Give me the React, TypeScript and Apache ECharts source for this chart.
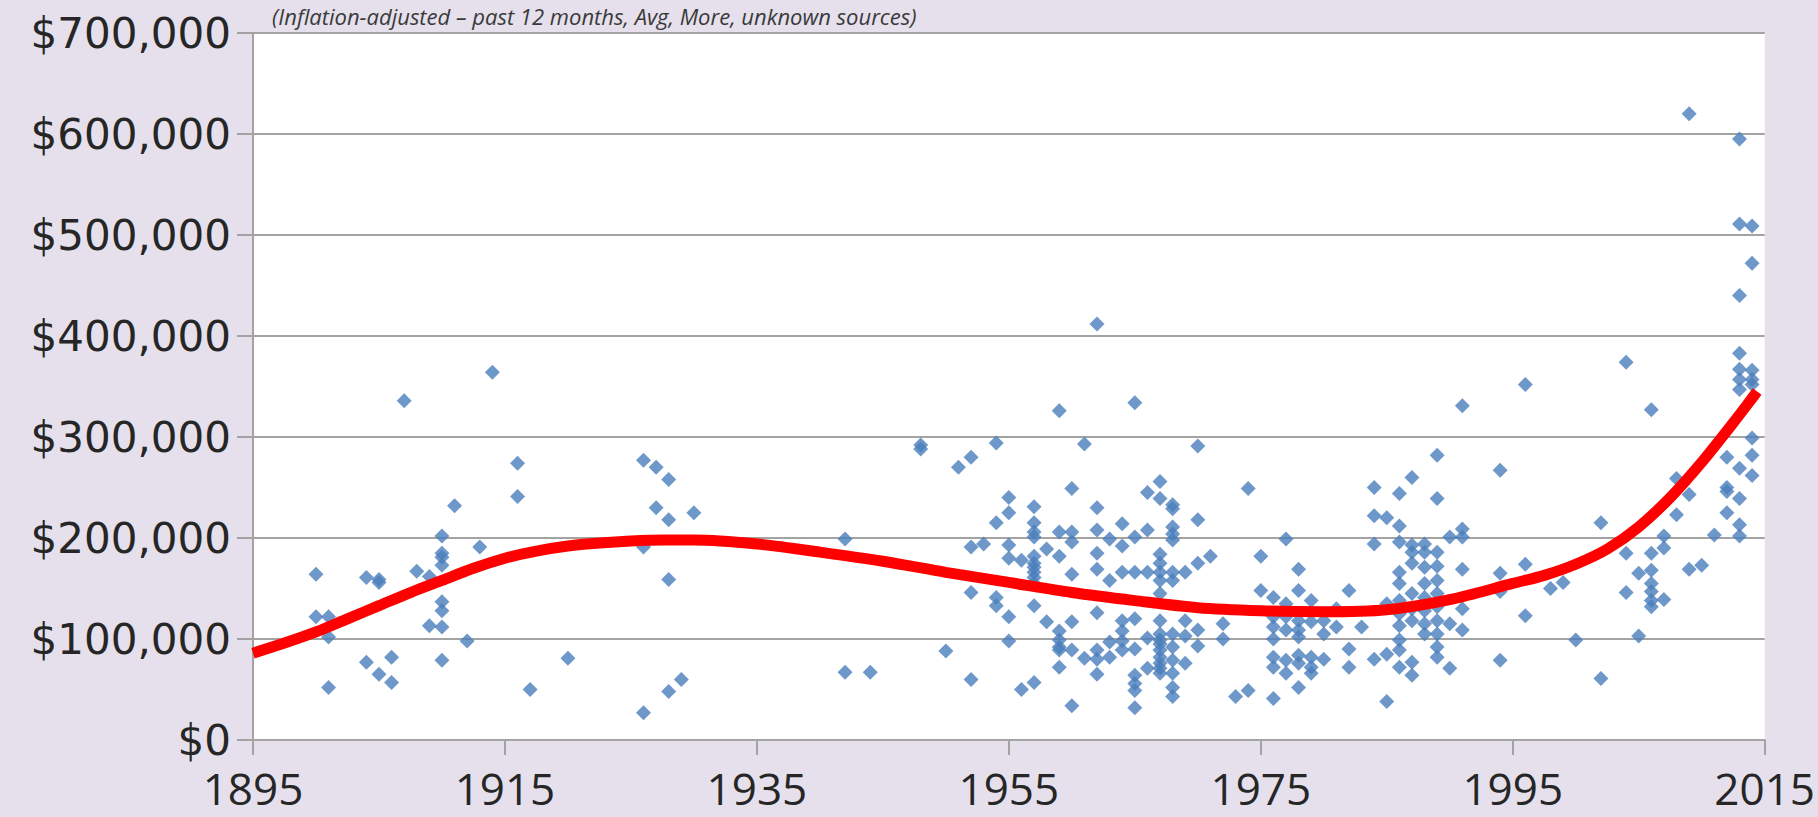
import React, { useEffect, useRef } from "react";
import * as echarts from "echarts";

// Scatter points: [year, prices in $ thousands]
const saleGroups: [number, number[]][] = [
  [1900, [164, 122]],
  [1901, [122, 102, 52]],
  [1904, [161, 77]],
  [1905, [159, 156, 65]],
  [1906, [82, 57]],
  [1907, [336]],
  [1908, [167]],
  [1909, [162, 113]],
  [1910, [202, 185, 181, 173, 137, 128, 112, 79]],
  [1911, [232]],
  [1912, [98]],
  [1913, [191]],
  [1914, [364]],
  [1916, [274, 241]],
  [1917, [50]],
  [1920, [81]],
  [1926, [277, 191, 27]],
  [1927, [270, 230]],
  [1928, [258, 218, 159, 48]],
  [1929, [60]],
  [1930, [225]],
  [1942, [199, 67]],
  [1944, [67]],
  [1948, [292, 288]],
  [1950, [88]],
  [1951, [270]],
  [1952, [280, 191, 146, 60]],
  [1953, [194]],
  [1954, [294, 215, 141, 133]],
  [1955, [240, 225, 193, 180, 122, 98]],
  [1956, [178, 50]],
  [1957, [231, 215, 206, 201, 182, 175, 171, 166, 161, 155, 133, 57]],
  [1958, [189, 117]],
  [1959, [326, 206, 182, 108, 99, 92, 89, 72]],
  [1960, [249, 206, 196, 164, 117, 89, 34]],
  [1961, [293, 81]],
  [1962, [412, 230, 208, 185, 169, 126, 89, 80, 65]],
  [1963, [199, 158, 97, 82]],
  [1964, [214, 192, 166, 118, 108, 98, 89]],
  [1965, [334, 201, 166, 120, 90, 64, 56, 49, 32]],
  [1966, [245, 208, 166, 101, 71]],
  [1967, [256, 239, 184, 175, 166, 158, 145, 118, 105, 99, 95, 89, 82, 76, 71, 66]],
  [1968, [233, 229, 211, 204, 198, 166, 158, 105, 92, 79, 66, 52, 43]],
  [1969, [166, 118, 103, 76]],
  [1970, [291, 218, 175, 109, 93]],
  [1971, [182]],
  [1972, [115, 100]],
  [1973, [43]],
  [1974, [249, 49]],
  [1975, [182, 148]],
  [1976, [141, 122, 112, 100, 82, 72, 41]],
  [1977, [199, 135, 122, 109, 79, 66]],
  [1978, [169, 148, 118, 109, 102, 84, 76, 52]],
  [1979, [138, 117, 82, 72, 66]],
  [1980, [118, 105, 80]],
  [1981, [130, 112]],
  [1982, [148, 90, 72]],
  [1983, [112]],
  [1984, [250, 222, 194, 80]],
  [1985, [220, 135, 85, 38]],
  [1986, [244, 212, 196, 166, 155, 138, 125, 113, 99, 89, 72]],
  [1987, [260, 193, 186, 175, 145, 130, 118, 77, 64]],
  [1988, [194, 186, 171, 155, 141, 128, 115, 105]],
  [1989, [282, 239, 186, 172, 158, 145, 132, 118, 105, 92, 82]],
  [1990, [201, 115, 71]],
  [1991, [331, 209, 201, 169, 130, 109]],
  [1994, [267, 165, 147, 79]],
  [1996, [352, 174, 123]],
  [1998, [150]],
  [1999, [156]],
  [2000, [99]],
  [2002, [215, 61]],
  [2004, [374, 185, 146]],
  [2005, [165, 103]],
  [2006, [327, 185, 168, 155, 147, 138, 132]],
  [2007, [202, 190, 139]],
  [2008, [259, 223]],
  [2009, [620, 243, 169]],
  [2010, [173]],
  [2011, [203]],
  [2012, [280, 250, 246, 225]],
  [2013, [595, 511, 440, 383, 367, 357, 347, 269, 239, 213, 202]],
  [2014, [509, 472, 366, 357, 352, 299, 282, 262]],
];

// Trend curve, $ thousands
const trendYears = [1895, 1897.5, 1900, 1902.5, 1905, 1907.5, 1910, 1912.5, 1915, 1917.5, 1920, 1922.5, 1925, 1927.5, 1930, 1935, 1940, 1945, 1950, 1955, 1960, 1965, 1970, 1975, 1980, 1985, 1990, 1995, 1997.5, 2000, 2002.5, 2005, 2007.5, 2010, 2012.5, 2014.4];
const trendK = [86, 96, 107, 120, 133, 146, 158, 170, 180, 187, 192, 195, 197, 198, 198, 194, 186, 177, 166, 156, 146, 138, 131, 128, 127, 129, 139, 155, 163, 174, 189, 211, 240, 275, 314, 345];

const xTicks = { min: 1895, max: 2015, step: 20 };
const yTicks = { min: 0, max: 700000, step: 100000 };
const titleText = "(Inflation-adjusted – past 12 months, Avg, More, unknown sources)";

export default function App() {
  const ref = useRef<HTMLDivElement>(null);
  useEffect(() => {
    if (!ref.current) return;
    const chart = echarts.init(ref.current, undefined, { renderer: "svg" });
    const scatterData: number[][] = [];
    saleGroups.forEach(([yr, vals]) => vals.forEach((v) => scatterData.push([yr, v * 1000])));
    const trendData = trendYears.map((y, i) => [y, trendK[i] * 1000]);
    const gray = "#A3A3A3";
    chart.setOption({
      animation: false,
      backgroundColor: "#E5E0EC",
      graphic: [
        {
          type: "text",
          x: 272,
          y: 5,
          style: {
            text: titleText,
            fontSize: 22,
            fontStyle: "italic",
            fontFamily: "Open Sans",
            fill: "#3a3a3a",
            verticalAlign: "top",
          },
        },
      ],
      grid: {
        left: 253,
        right: 53,
        top: 33,
        bottom: 77,
        show: true,
        backgroundColor: "#ffffff",
        borderWidth: 0,
      },
      xAxis: {
        type: "value",
        min: xTicks.min,
        max: xTicks.max,
        interval: xTicks.step,
        axisLine: { show: true, lineStyle: { color: gray, width: 2 } },
        axisTick: { show: true, length: 15, lineStyle: { color: gray, width: 2 } },
        splitLine: { show: false },
        axisLabel: {
          fontSize: 44,
          fontFamily: "Open Sans",
          color: "#262626",
          margin: 26,
          formatter: (v: number) => String(v),
        },
      },
      yAxis: {
        type: "value",
        min: yTicks.min,
        max: yTicks.max,
        interval: yTicks.step,
        axisLine: { show: true, lineStyle: { color: gray, width: 2 } },
        axisTick: { show: true, length: 16, lineStyle: { color: gray, width: 2 } },
        splitLine: { show: true, lineStyle: { color: gray, width: 2 } },
        axisLabel: {
          fontSize: 42,
          fontFamily: "DejaVu Sans",
          color: "#262626",
          margin: 22,
          formatter: (v: number) => "$" + v.toLocaleString("en-US"),
        },
      },
      series: [
        {
          type: "scatter",
          data: scatterData,
          symbol: "diamond",
          symbolSize: [15, 15],
          itemStyle: { color: "#4A7EBB" },
          z: 2,
        },
        {
          type: "line",
          data: trendData,
          smooth: 0.3,
          showSymbol: false,
          lineStyle: { color: "#FF0000", width: 11 },
          z: 3,
        },
      ],
    });
    return () => chart.dispose();
  }, []);
  return (
    <div
      ref={ref}
      style={{ position: "fixed", left: 0, top: 0, width: 1818, height: 817 }}
    />
  );
}
